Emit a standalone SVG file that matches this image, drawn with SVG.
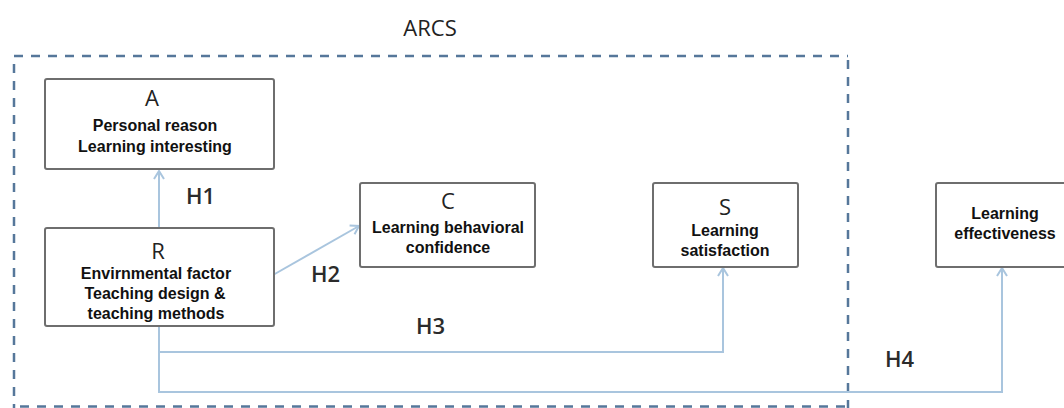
<svg xmlns="http://www.w3.org/2000/svg" width="1064" height="408" viewBox="0 0 1064 408">
  <style>
    .frame { fill: none; stroke: #56779a; stroke-width: 2.5; stroke-dasharray: 9 8; }
    .box { fill: #ffffff; stroke: #6e6e6e; stroke-width: 2; }
    .letter { font-family: "Open Sans", "Liberation Sans", sans-serif; font-size: 22px; font-weight: 500; fill: #222; text-anchor: middle; }
    .body { font-family: "Liberation Sans", Arial, sans-serif; font-size: 16px; font-weight: bold; fill: #111; text-anchor: middle; }
    .hlabel { font-family: "Open Sans", "Liberation Sans", sans-serif; font-size: 22px; font-weight: 600; fill: #2b2b2b; }
    .title { font-family: "Open Sans", "Liberation Sans", sans-serif; font-size: 22px; font-weight: 500; fill: #222; text-anchor: middle; }
    .conn { fill: none; stroke: #a9c5de; stroke-width: 2; }
  </style>
  <defs>
    <marker id="arr" viewBox="0 0 10 12" refX="9" refY="6" markerWidth="10" markerHeight="12" markerUnits="userSpaceOnUse" orient="auto">
      <path d="M1,1 L9,6 L1,11" fill="none" stroke="#a9c5de" stroke-width="2"/>
    </marker>
  </defs>
  <rect width="1064" height="408" fill="#ffffff"/>

  <g id="arcs-frame">
    <line class="frame" x1="14" y1="56" x2="848" y2="56"/>
    <line class="frame" x1="14" y1="64" x2="14" y2="408"/>
    <line class="frame" x1="848" y1="60" x2="848" y2="408"/>
    <line class="frame" x1="20" y1="406.5" x2="848" y2="406.5"/>
    <text class="title" x="430" y="36">ARCS</text>
  </g>

  <g id="connectors">
    <path class="conn" d="M159,228 V171" marker-end="url(#arr)"/>
    <path class="conn" d="M273,275 L359,226" marker-end="url(#arr)"/>
    <path class="conn" d="M159,326 V352 H723 V268" marker-end="url(#arr)"/>
    <path class="conn" d="M159,352 V392 H1002 V268" marker-end="url(#arr)"/>
    <text class="hlabel" x="186" y="204">H1</text>
    <text class="hlabel" x="311" y="282">H2</text>
    <text class="hlabel" x="416" y="334">H3</text>
    <text class="hlabel" x="885" y="367">H4</text>
  </g>

  <g id="node-A">
    <rect class="box" x="45" y="79" width="229" height="90" rx="2"/>
    <text class="letter" x="152" y="106">A</text>
    <text class="body" x="155" y="131">Personal reason</text>
    <text class="body" x="155" y="152">Learning interesting</text>
  </g>

  <g id="node-R">
    <rect class="box" x="45" y="228" width="229" height="98" rx="2"/>
    <text class="letter" x="158" y="259">R</text>
    <text class="body" x="156" y="279">Envirnmental factor</text>
    <text class="body" x="155" y="299">Teaching design &amp;</text>
    <text class="body" x="156" y="319">teaching methods</text>
  </g>

  <g id="node-C">
    <rect class="box" x="360" y="183" width="175" height="84" rx="2"/>
    <text class="letter" x="448" y="209">C</text>
    <text class="body" x="448" y="233">Learning behavioral</text>
    <text class="body" x="448" y="253">confidence</text>
  </g>

  <g id="node-S">
    <rect class="box" x="653" y="183" width="145" height="84" rx="2"/>
    <text class="letter" x="725" y="215">S</text>
    <text class="body" x="725" y="236">Learning</text>
    <text class="body" x="725" y="256">satisfaction</text>
  </g>

  <g id="node-effectiveness">
    <rect class="box" x="936" y="183" width="140" height="84" rx="2"/>
    <text class="body" x="1005" y="219">Learning</text>
    <text class="body" x="1005" y="239">effectiveness</text>
  </g>
</svg>
